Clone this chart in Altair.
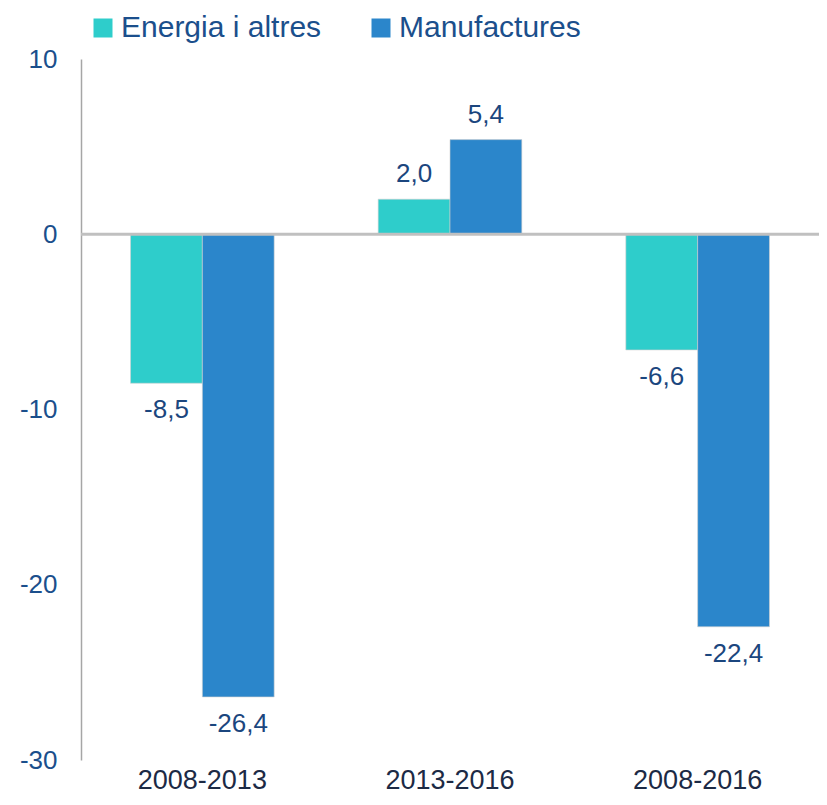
import altair as alt
import pandas as pd

periods = ["2008-2013", "2013-2016", "2008-2016"]
series = ["Energia i altres", "Manufactures"]
energia = [-8.5, 2.0, -6.6]
manufactures = [-26.4, 5.4, -22.4]
colors = ["#2ECDCB", "#2B86CB"]
y_ticks = [-30, -20, -10, 0, 10]

rows = []
for i, p in enumerate(periods):
    for s, vals in zip(series, [energia, manufactures]):
        v = vals[i]
        rows.append({"period": p, "series": s, "value": v,
                     "label": f"{v:.1f}".replace(".", ",")})
df = pd.DataFrame(rows)

font = "Liberation Sans"
x = alt.X("period:N", sort=periods, title=None,
          scale=alt.Scale(paddingInner=0.42),
          axis=alt.Axis(labelAngle=0, domain=False, ticks=False, labelFontSize=27,
                        labelColor="#1C2A45", labelPadding=7, labelFont=font))
xo = alt.XOffset("series:N", sort=series, scale=alt.Scale(paddingInner=0, paddingOuter=0))
y = alt.Y("value:Q", title=None,
          scale=alt.Scale(domain=[-30, 10], nice=False),
          axis=alt.Axis(values=y_ticks, grid=False, ticks=False, domainColor="#A6A6A6",
                        domainWidth=1.5, labelFontSize=26, labelColor="#1B4F8C",
                        labelPadding=24, labelFont=font,
                        labelExpr="'' + datum.value"))

base = alt.Chart(df)
bars = base.mark_bar(stroke="#D0D0D0", strokeWidth=0.6).encode(
    x=x, xOffset=xo, y=y,
    color=alt.Color("series:N", sort=series,
                    scale=alt.Scale(domain=series, range=colors),
                    legend=alt.Legend(title=None, orient="none", legendX=7, legendY=-46,
                                      direction="horizontal", symbolType="square",
                                      symbolSize=361, symbolStrokeWidth=0,
                                      labelFontSize=30, labelColor="#1B4F8C",
                                      labelFont=font, columnPadding=44, labelOffset=3,
                                      labelLimit=0)),
)
zero = alt.Chart(pd.DataFrame({"z": [0]})).mark_rule(color="#C0C0C0", strokeWidth=3).encode(
    y=alt.Y("z:Q", scale=alt.Scale(domain=[-30, 10], nice=False)))

text_neg = base.transform_filter("datum.value < 0").mark_text(
    baseline="top", dy=14, fontSize=26, color="#1B467E", font=font).encode(
    x=x, xOffset=xo, y=y, text="label:N")
text_pos = base.transform_filter("datum.value >= 0").mark_text(
    baseline="bottom", dy=-12, fontSize=26, color="#1B467E", font=font).encode(
    x=x, xOffset=xo, y=y, text="label:N")

chart = alt.layer(bars, zero, text_neg, text_pos).properties(
    width=738, height=701,
    autosize=alt.AutoSizeParams(type="none"),
    padding={"left": 73, "top": 51, "right": 0, "bottom": 36},
).configure_view(stroke=None)

chart.save("out.html", embed_options={"renderer": "svg", "actions": False})
